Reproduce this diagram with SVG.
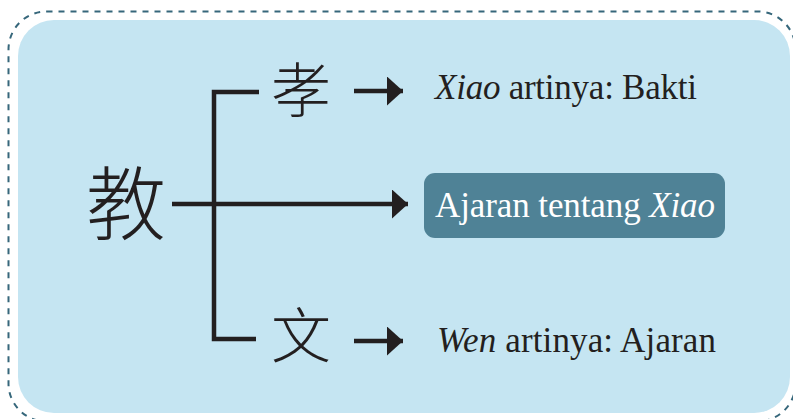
<svg xmlns="http://www.w3.org/2000/svg" width="793" height="419" viewBox="0 0 793 419">
<style>
.ln{stroke:#231f20;stroke-width:4.5;fill:none}
.cjk{font-family:"Noto Sans CJK SC","Noto Sans CJK JP",serif;fill:#231f20;font-weight:300}
.lat{font-family:"Liberation Serif","DejaVu Serif",serif;fill:#231f20;font-size:35px}
</style>
<defs>
<marker id="ah" viewBox="0 0 16 29" refX="16" refY="14.5" markerWidth="16" markerHeight="29" markerUnits="userSpaceOnUse" orient="auto">
<path d="M0,0 L16,14.5 L0,29 Z" fill="#231f20"/>
</marker>
</defs>
<rect x="8.5" y="11.5" width="787" height="410" rx="38" fill="none" stroke="#36677b" stroke-width="2" stroke-dasharray="6 6"/>
<rect x="18" y="20" width="772" height="393" rx="36" fill="#c5e5f2"/>
<g id="connectors">
<path class="ln" d="M259,92 H214 V339 H256"/>
<line class="ln" x1="172" y1="204" x2="408" y2="204" marker-end="url(#ah)"/>
<line class="ln" x1="354" y1="91" x2="403" y2="91" marker-end="url(#ah)"/>
<line class="ln" x1="354" y1="341" x2="403" y2="341" marker-end="url(#ah)"/>
</g>
<g id="jiao"><text class="cjk" x="126" y="233" font-size="80" text-anchor="middle">教</text></g>
<g id="xiao"><text class="cjk" x="301" y="113" font-size="60" text-anchor="middle">孝</text></g>
<g id="wen"><text class="cjk" x="301" y="358" font-size="60" text-anchor="middle">文</text></g>
<g id="xiao-meaning"><text class="lat" x="435" y="99" textLength="262" lengthAdjust="spacing"><tspan font-style="italic">Xiao</tspan> artinya: Bakti</text></g>
<g id="ajaran-xiao">
<rect x="424" y="173" width="301" height="65" rx="11" fill="#4f8296"/>
<text class="lat" x="435" y="217" textLength="280" lengthAdjust="spacing" style="fill:#ffffff">Ajaran tentang <tspan font-style="italic">Xiao</tspan></text>
</g>
<g id="wen-meaning"><text class="lat" x="437" y="352" textLength="279" lengthAdjust="spacing"><tspan font-style="italic">Wen</tspan> artinya: Ajaran</text></g>
</svg>
